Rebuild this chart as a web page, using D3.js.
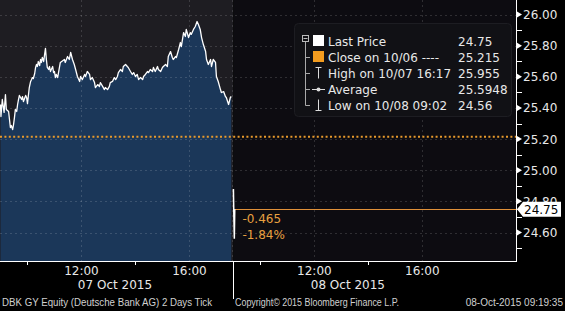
<!DOCTYPE html>
<html><head><meta charset="utf-8">
<script src="https://cdn.jsdelivr.net/npm/d3@7"></script>
<style>body{margin:0;background:#000;overflow:hidden}svg{display:block}</style>
</head><body>
<svg id="c" width="565" height="311"></svg>
<script>
// ---------- DATA ----------
const sessionDates = ["07 Oct 2015", "08 Oct 2015"];
const day1Times = ["09:00","09:01","09:04","09:08","09:11","09:13","09:18","09:20","09:22","09:24","09:27","09:29","09:31","09:33","09:36","09:38","09:40","09:42","09:47","09:49","09:51","09:56","09:58","10:00","10:02","10:04","10:07","10:09","10:11","10:13","10:16","10:18","10:20","10:22","10:24","10:27","10:29","10:31","10:33","10:36","10:38","10:40","10:42","10:44","10:47","10:49","10:51","10:53","10:56","10:58","11:00","11:02","11:04","11:07","11:13","11:22","11:24","11:29","11:33","11:36","11:40","11:44","11:47","11:51","11:56","11:58","12:02","12:07","12:09","12:13","12:18","12:20","12:24","12:29","12:31","12:36","12:40","12:42","12:47","12:51","12:53","12:58","13:02","13:04","13:09","13:13","13:16","13:20","13:22","13:27","13:31","13:33","13:38","13:42","13:44","13:49","13:53","13:56","14:00","14:04","14:07","14:11","14:16","14:18","14:22","14:27","14:29","14:33","14:38","14:40","14:44","14:49","14:51","14:56","15:00","15:02","15:07","15:11","15:13","15:18","15:22","15:24","15:29","15:31","15:36","15:40","15:42","15:47","15:51","15:53","15:58","16:02","16:04","16:09","16:13","16:17","16:20","16:24","16:27","16:31","16:36","16:38","16:42","16:47","16:49","16:53","16:58","17:00","17:04","17:09","17:11","17:16","17:20","17:22","17:27","17:31","17:33"];
const day1Prices = [25.422,25.345,25.454,25.371,25.486,25.390,25.377,25.326,25.274,25.287,25.261,25.293,25.338,25.390,25.377,25.422,25.454,25.480,25.454,25.473,25.441,25.480,25.467,25.428,25.480,25.531,25.570,25.582,25.595,25.589,25.621,25.660,25.679,25.666,25.698,25.672,25.711,25.692,25.724,25.698,25.743,25.782,25.711,25.660,25.647,25.666,25.634,25.647,25.666,25.627,25.634,25.595,25.615,25.595,25.692,25.711,25.692,25.730,25.711,25.756,25.711,25.679,25.647,25.602,25.570,25.602,25.582,25.615,25.602,25.634,25.615,25.582,25.595,25.563,25.531,25.550,25.538,25.563,25.538,25.518,25.531,25.518,25.538,25.563,25.570,25.595,25.582,25.602,25.627,25.647,25.634,25.666,25.679,25.666,25.660,25.634,25.615,25.627,25.602,25.615,25.582,25.595,25.582,25.602,25.615,25.634,25.627,25.647,25.634,25.660,25.634,25.666,25.647,25.634,25.660,25.666,25.679,25.666,25.730,25.762,25.724,25.711,25.730,25.724,25.775,25.820,25.794,25.884,25.859,25.904,25.852,25.884,25.872,25.904,25.923,25.955,25.936,25.904,25.852,25.807,25.762,25.711,25.679,25.711,25.666,25.711,25.692,25.602,25.570,25.518,25.499,25.505,25.473,25.467,25.422,25.467,25.473];
const day2Times = ["09:00","09:01","09:02","09:03"];
const day2Prices = [24.88, 24.70, 24.56, 24.75];
const yMajorTicks = [24.60, 24.80, 25.00, 25.20, 25.40, 25.60, 25.80, 26.00];
const yMinorTicks = [24.50, 24.70, 24.90, 25.10, 25.30, 25.50, 25.70, 25.90];
const xGridTimes = ["12:00", "16:00"];
const xSmallTickTimes = ["10:00", "14:00"];
const prevClose = 25.215;
const lastPrice = 24.75;
const changeTexts = ["-0.465", "-1.84%"];
const legendLabels = ["Last Price", "Close on 10/06 ----", "High on 10/07 16:17", "Average", "Low on 10/08 09:02"];
const legendValues = ["24.75", "25.215", "25.955", "25.5948", "24.56"];
const footerLeft = "DBK GY Equity (Deutsche Bank AG) 2 Days  Tick";
const footerMid = "Copyright\u00A9 2015 Bloomberg Finance L.P.";
const footerRight = "08-Oct-2015 09:19:35";

// ---------- LAYOUT ----------
const W = 565, H = 311, plotR = 516, plotB = 261;
const sessionLen = 8.63; // hours from 09:00 to end of session slot
const FONT = "DejaVu Sans";
const svg = d3.select("#c");

function sHours(day, t) {
  const [h, m] = t.split(":").map(Number);
  return day * sessionLen + (h + m / 60 - 9);
}
const x = d3.scaleLinear().domain([0, 19.1]).range([0.5, plotR]);
const y = d3.scaleLinear().domain([24.60, 26.00]).range([232.5, 14.5]);

const d1 = day1Times.map((t, i) => ({ t: sHours(0, t), p: day1Prices[i] }));
const d2 = day2Times.map((t, i) => ({ t: sHours(1, t), p: day2Prices[i] }));
const sepX = x(sessionLen);

// backgrounds
svg.append("rect").attr("width", W).attr("height", H).attr("fill", "#000");
svg.append("rect").attr("x", 0).attr("y", 0).attr("width", sepX).attr("height", plotB).attr("fill", "#1e1d22");
svg.append("rect").attr("x", sepX).attr("y", 0).attr("width", plotR - sepX).attr("height", plotB).attr("fill", "#0d0c11");

// area day 1
svg.append("path").datum(d1)
  .attr("d", d3.area().x(d => x(d.t)).y0(plotB).y1(d => y(d.p)))
  .attr("fill", "#1b3759");

// grid
const grid = svg.append("g").attr("stroke", "rgba(255,255,255,0.14)").attr("stroke-width", 1).attr("stroke-dasharray", "2,3");
yMajorTicks.forEach(v => grid.append("line").attr("x1", 0).attr("x2", plotR).attr("y1", Math.round(y(v)) + 0.5).attr("y2", Math.round(y(v)) + 0.5));
[0, 1].forEach(day => xGridTimes.forEach(t => {
  const xx = Math.round(x(sHours(day, t))) + 0.5;
  grid.append("line").attr("x1", xx).attr("x2", xx).attr("y1", 0).attr("y2", plotB);
}));
grid.append("line").attr("x1", Math.round(sepX) - 0.5).attr("x2", Math.round(sepX) - 0.5).attr("y1", 0).attr("y2", plotB);

// previous close dotted
svg.append("line").attr("x1", 0).attr("x2", plotR).attr("y1", y(prevClose)).attr("y2", y(prevClose))
  .attr("stroke", "#e89a2c").attr("stroke-width", 2).attr("stroke-dasharray", "2,2.4");

// last price line
svg.append("line").attr("x1", x(d2[0].t) + 1).attr("x2", plotR + 2).attr("y1", Math.round(y(lastPrice)) + 0.5).attr("y2", Math.round(y(lastPrice)) + 0.5)
  .attr("stroke", "#e0913a").attr("stroke-width", 1);

// price lines
const line = d3.line().x(d => x(d.t)).y(d => y(d.p));
svg.append("path").datum(d1).attr("d", line).attr("fill", "none").attr("stroke", "#fff").attr("stroke-width", 1.3).attr("stroke-linejoin", "round");
svg.append("path").datum(d2).attr("d", line).attr("fill", "none").attr("stroke", "#fff").attr("stroke-width", 1.5);

// change texts
changeTexts.forEach((s, i) => svg.append("text").attr("x", x(d2[0].t) + 9).attr("y", y(lastPrice) + 14 + i * 16)
  .attr("fill", "#e8a040").attr("font-family", FONT).attr("font-size", 12).text(s));

// legend
const lg = svg.append("g");
lg.append("rect").attr("x", 294.5).attr("y", 23.5).attr("width", 217).attr("height", 93).attr("rx", 4)
  .attr("fill", "#111115").attr("stroke", "#1d1d22");
const rowY = i => 41 + i * 16;
lg.append("rect").attr("x", 302.5).attr("y", 35.5).attr("width", 6).attr("height", 6).attr("fill", "none").attr("stroke", "#bbb");
lg.append("line").attr("x1", 303.5).attr("x2", 307.5).attr("y1", 38.5).attr("y2", 38.5).attr("stroke", "#bbb");
lg.append("line").attr("x1", 305.5).attr("x2", 305.5).attr("y1", 42).attr("y2", rowY(4) + 0.5).attr("stroke", "#aaa");
for (let i = 1; i < 5; i++) lg.append("line").attr("x1", 305.5).attr("x2", 310).attr("y1", rowY(i) + 0.5).attr("y2", rowY(i) + 0.5).attr("stroke", "#aaa");
lg.append("rect").attr("x", 313).attr("y", rowY(0) - 6).attr("width", 11).attr("height", 11).attr("fill", "#fff");
lg.append("rect").attr("x", 313).attr("y", rowY(1) - 6).attr("width", 11).attr("height", 11).attr("fill", "#f39c1f");
lg.append("path").attr("d", `M315.5,${rowY(2)-5.5}H321.5M318.5,${rowY(2)-5.5}V${rowY(2)+5.5}`).attr("stroke", "#ddd").attr("fill", "none");
lg.append("line").attr("x1", 312).attr("x2", 325).attr("y1", rowY(3) + 0.5).attr("y2", rowY(3) + 0.5).attr("stroke", "#ddd");
lg.append("circle").attr("cx", 318.5).attr("cy", rowY(3) + 0.5).attr("r", 2).attr("fill", "#ddd");
lg.append("path").attr("d", `M318.5,${rowY(4)-5.5}V${rowY(4)+5.5}M315.5,${rowY(4)+5.5}H321.5`).attr("stroke", "#ddd").attr("fill", "none");
legendLabels.forEach((s, i) => {
  lg.append("text").attr("x", 328).attr("y", rowY(i) + 4.5).attr("fill", "#e8e8e8").attr("font-family", FONT).attr("font-size", 12).text(s);
  lg.append("text").attr("x", 458).attr("y", rowY(i) + 4.5).attr("fill", "#e8e8e8").attr("font-family", FONT).attr("font-size", 12).text(legendValues[i]);
});

// right axis
svg.append("line").attr("x1", plotR + 0.5).attr("x2", plotR + 0.5).attr("y1", 0).attr("y2", plotB + 0.5).attr("stroke", "#fff");
yMajorTicks.forEach(v => {
  const yy = y(v);
  svg.append("path").attr("d", `M${plotR+1},${yy-3}L${plotR+6},${yy}L${plotR+1},${yy+3}Z`).attr("fill", "#fff");
  svg.append("text").attr("x", 523).attr("y", yy + 4.5).attr("fill", "#e8e8e8").attr("font-family", FONT).attr("font-size", 12).text(d3.format(".2f")(v));
});
yMinorTicks.forEach(v => svg.append("line").attr("x1", plotR + 1).attr("x2", plotR + 6).attr("y1", Math.round(y(v)) + 0.5).attr("y2", Math.round(y(v)) + 0.5).attr("stroke", "#fff"));
// last price tag (covers the lower part of the neighbouring tick label, as in the original)
const ly = y(lastPrice);
svg.append("path").attr("d", `M${plotR+1},${ly}L${plotR+7},${ly-7.5}H561V${ly+7.5}H${plotR+7}Z`).attr("fill", "#fff");
svg.append("text").attr("x", 524).attr("y", ly + 4.5).attr("fill", "#000").attr("font-family", FONT).attr("font-size", 12).text(d3.format(".2f")(lastPrice));

// bottom axis
svg.append("line").attr("x1", 0).attr("x2", plotR + 1).attr("y1", plotB + 0.5).attr("y2", plotB + 0.5).attr("stroke", "#fff");
svg.append("line").attr("x1", Math.round(sepX) + 0.5).attr("x2", Math.round(sepX) + 0.5).attr("y1", plotB).attr("y2", 299).attr("stroke", "#fff");
[0, 1].forEach(day => {
  xSmallTickTimes.forEach(t => {
    const xx = Math.round(x(sHours(day, t))) + 0.5;
    svg.append("line").attr("x1", xx).attr("x2", xx).attr("y1", plotB).attr("y2", plotB + 4).attr("stroke", "#fff");
  });
  xGridTimes.forEach(t => svg.append("text").attr("x", x(sHours(day, t))).attr("y", 275).attr("text-anchor", "middle")
    .attr("fill", "#e8e8e8").attr("font-family", FONT).attr("font-size", 12).text(t));
  svg.append("text").attr("x", x(day * sessionLen + sessionLen / 2) - 2).attr("y", 289).attr("text-anchor", "middle")
    .attr("fill", "#e8e8e8").attr("font-family", FONT).attr("font-size", 12).text(sessionDates[day]);
});

// footer
const FF = "Liberation Sans";
svg.append("text").attr("x", 2).attr("y", 306).attr("fill", "#d0d0d0").attr("font-family", FF).attr("font-size", 10)
  .attr("textLength", 210).attr("lengthAdjust", "spacingAndGlyphs").text(footerLeft);
svg.append("text").attr("x", 235).attr("y", 306).attr("fill", "#d0d0d0").attr("font-family", FF).attr("font-size", 10)
  .attr("textLength", 164).attr("lengthAdjust", "spacingAndGlyphs").text(footerMid);
svg.append("text").attr("x", 563).attr("y", 306).attr("text-anchor", "end").attr("fill", "#d0d0d0").attr("font-family", FF).attr("font-size", 10)
  .text(footerRight);
</script>
</body></html>
